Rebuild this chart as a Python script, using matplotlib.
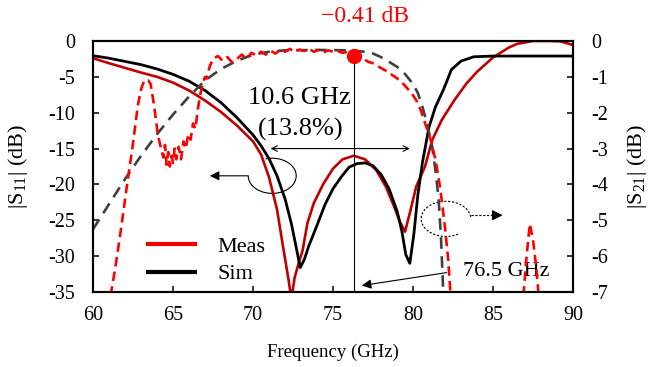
import matplotlib
matplotlib.use('Agg')
import matplotlib.pyplot as plt
from matplotlib.patches import Arc
from matplotlib.lines import Line2D

plt.rcParams['font.family'] = ['Liberation Serif', 'DejaVu Serif']
plt.rcParams['mathtext.fontset'] = 'custom'
plt.rcParams['mathtext.rm'] = 'Liberation Serif'
plt.rcParams['mathtext.it'] = 'Liberation Serif:italic'
plt.rcParams['axes.unicode_minus'] = False

# measured S11 (dB)
meas_s11_f = [60, 61, 62, 63, 64, 65, 66, 67, 68, 69,
              69.5, 70, 70.5, 71, 71.5, 71.9, 72.2, 72.4, 72.6, 72.85,
              73.1, 73.4, 73.8, 74.4, 75, 75.6, 76.3, 77, 77.7, 78.3,
              78.8, 79.2, 79.5, 79.8, 80.2, 80.75, 81.2, 81.8, 82.6, 83.35,
              84, 85, 86, 86.5, 87.5, 88.5, 89.2, 90]
meas_s11 = [-2.4, -3.1, -3.75, -4.4, -5.0, -5.8, -6.9, -8.3, -9.9, -11.8,
            -12.9, -14.0, -15.8, -19.0, -23.5, -29.0, -33.0, -36.0, -33.0, -31.0,
            -29.2, -25.4, -22.6, -19.9, -17.8, -16.5, -16.0, -16.5, -18.0, -20.3,
            -23.0, -25.3, -26.6, -24.0, -20.3, -17.5, -13.8, -11.0, -8.2, -5.9,
            -4.3, -2.3, -0.9, -0.4, 0.0, 0.0, -0.05, -0.55]

# simulated S11 (dB)
sim_s11_f = [60, 61, 62, 63, 64, 65, 66, 67, 68, 69,
             70, 70.5, 71, 71.5, 72, 72.4, 72.7, 72.95, 73.2, 73.5,
             74, 74.5, 75, 75.5, 76, 76.5, 77, 77.5, 78, 78.5,
             79, 79.3, 79.55, 79.8, 80.05, 80.3, 80.6, 81.0, 81.4, 81.9,
             82.4, 83, 83.8, 85, 90]
sim_s11 = [-2.05, -2.4, -2.85, -3.3, -3.9, -4.65, -5.6, -6.9, -8.6, -10.7,
           -13.1, -14.6, -16.4, -18.8, -22.0, -25.5, -28.8, -31.6, -30.5, -28.5,
           -25.7, -22.8, -20.6, -19.0, -17.6, -17.1, -17.0, -17.4, -18.6, -20.6,
           -23.7, -26.5, -29.8, -31.0, -27.0, -21.5, -16.8, -12.0, -9.2, -6.8,
           -4.0, -2.8, -2.2, -2.1, -2.1]

# measured S21 (dB)
meas_s21_f = [61.1, 61.4, 61.7, 62.1, 62.5, 62.8, 63.0, 63.2, 63.45, 63.6,
              63.8, 64.05, 64.25, 64.4, 64.5, 64.6, 64.7, 64.8, 64.9, 65.0,
              65.1, 65.2, 65.35, 65.5, 65.65, 65.8, 65.95, 66.1, 66.25, 66.4,
              66.55, 66.7, 66.85, 67.0, 67.1, 67.3, 67.5, 67.8, 68.1, 68.4,
              68.7, 69.0, 69.3, 69.6, 69.9, 70.2, 70.5, 70.8, 71.1, 71.4,
              71.7, 72.0, 72.3, 72.6, 72.9, 73.2, 73.5, 73.8, 74.1, 74.4,
              74.7, 75.0, 75.3, 75.6, 75.9, 76.3, 76.6, 76.9, 77.2, 77.5,
              77.8, 78.1, 78.4, 78.7, 79.0, 79.3, 79.6, 79.9, 80.2, 80.5,
              80.8, 81.1, 81.4, 81.7, 82.0, 82.2, 82.35]
meas_s21 = [-7.1, -6.3, -5.4, -4.1, -2.85, -1.8, -1.35, -1.1, -1.1, -1.2,
            -1.75, -2.6, -3.0, -3.25, -2.9, -3.45, -3.1, -3.5, -3.2, -3.4,
            -3.0, -3.3, -2.95, -3.3, -2.8, -3.0, -2.6, -2.75, -2.3, -2.45,
            -1.9, -1.5, -1.2, -1.0, -1.05, -0.7, -0.5, -0.42, -0.55, -0.45,
            -0.6, -0.5, -0.38, -0.5, -0.33, -0.4, -0.3, -0.38, -0.27, -0.35,
            -0.25, -0.3, -0.22, -0.3, -0.24, -0.28, -0.22, -0.3, -0.25, -0.32,
            -0.26, -0.3, -0.28, -0.33, -0.3, -0.41, -0.45, -0.5, -0.58, -0.62,
            -0.7, -0.78, -0.85, -0.95, -1.04, -1.15, -1.3, -1.45, -1.65, -1.95,
            -2.35, -2.75, -3.3, -4.1, -5.2, -6.1, -7.1]
spike_f = [86.9, 87.1, 87.3, 87.5, 87.7, 87.85]
spike_s21 = [-7.1, -6.0, -5.1, -5.55, -6.3, -7.1]

# simulated S21 (dB)
sim_s21_f = [60, 61, 62, 63, 64, 65, 66, 67, 68, 69,
             70, 71, 72, 74, 76, 77, 77.5, 78, 78.5, 79,
             79.5, 80, 80.3, 80.6, 80.9, 81.2, 81.4, 81.6, 81.75, 81.9]
sim_s21 = [-5.25, -4.55, -3.85, -3.2, -2.6, -2.05, -1.55, -1.1, -0.78, -0.55,
           -0.38, -0.3, -0.26, -0.25, -0.26, -0.3, -0.35, -0.45, -0.58, -0.72,
           -0.92, -1.2, -1.45, -1.85, -2.35, -2.95, -3.6, -4.4, -5.5, -7.1]

f_center = 76.3
il_center = -0.41


def main():
    fig = plt.figure(figsize=(6.56, 3.67), dpi=100)
    ax = fig.add_axes([0.1418, 0.2044, 0.7317, 0.6839])
    ax2 = ax.twinx()

    ax.plot(meas_s11_f, meas_s11, color='#C00000', lw=1.9, zorder=3)
    ax.plot(sim_s11_f, sim_s11, color='black', lw=2.0, zorder=3)
    ax2.plot(sim_s21_f, sim_s21, color='#404040', lw=1.9, dashes=(4.4, 2.8))
    ax2.plot(meas_s21_f, meas_s21, color='#FF0000', lw=1.9, dashes=(3.6, 2.0))
    ax2.plot(spike_f, spike_s21, color='#FF0000', lw=1.9, dashes=(3.6, 2.0))
    ax2.plot([f_center], [il_center], 'o', color='#FF0000', ms=10, zorder=5)

    ax.set_xlim(60, 90)
    ax.set_ylim(-35, 0)
    ax2.set_ylim(-7, 0)
    ax.set_xticks(range(60, 91, 5))
    ax.set_yticks(range(-35, 1, 5))
    ax2.set_yticks(range(-7, 1, 1))

    for a in (ax, ax2):
        for s in a.spines.values():
            s.set_linewidth(1.5)
        a.tick_params(direction='in', length=4, width=1.1, labelsize=14.5)
    ax.tick_params(axis='y', pad=13)
    ax.tick_params(axis='x', pad=10)
    ax2.tick_params(axis='y', pad=13)

    # axis titles placed in figure pixels
    fig.text(0.5 * (0.1418 + 0.8735), 1 - 352 / 367, 'Frequency (GHz)',
             fontsize=13.5, ha='center', va='center')
    fig.text(18 / 656, 0.5 * (0.2044 + 0.8883), r'|S$_{11}$| (dB)',
             fontsize=16, ha='center', va='center', rotation=90)
    fig.text(637 / 656, 0.5 * (0.2044 + 0.8883), r'|S$_{21}$| (dB)',
             fontsize=16, ha='center', va='center', rotation=90)

    # centre frequency marker line
    ax.plot([f_center, f_center], [-35, il_center * 5], color='black', lw=0.8, zorder=4)
    ax2.text(77.0, 0.67, '\u22120.41 dB', color='#FF0000', fontsize=17,
             ha='center', va='center', clip_on=False)

    # bandwidth arrow
    ax.annotate('', xy=(71.1, -15.0), xytext=(79.8, -15.0),
                arrowprops=dict(arrowstyle='<->', lw=0.8, color='black',
                                shrinkA=0, shrinkB=0, mutation_scale=10))
    ax.text(72.9, -8.0, '10.6 GHz', fontsize=19, ha='center', va='center')
    ax.text(73.0, -12.4, '(13.8%)', fontsize=19, ha='center', va='center')

    # S11 pointer (solid loop, left arrow)
    ax.add_patch(Arc((71.2, -18.8), 3.0, 4.9, theta1=180, theta2=100,
                     color='black', lw=0.8))
    ax.annotate('', xy=(67.3, -18.8), xytext=(69.7, -18.8),
                arrowprops=dict(arrowstyle='-|>', lw=0.8, color='black',
                                shrinkA=0, shrinkB=0, mutation_scale=14))

    # S21 pointer (dashed loop, right arrow)
    ax.add_patch(Arc((82.06, -24.8), 3.1, 4.9, theta1=10, theta2=290,
                     color='black', lw=0.8, ls=(0, (2, 1.5))))
    ax.plot([83.6, 85.0], [-24.3, -24.3], color='black', lw=0.8,
            ls=(0, (2, 1.5)))
    ax.annotate('', xy=(85.6, -24.3), xytext=(84.9, -24.3),
                arrowprops=dict(arrowstyle='-|>', lw=0.8, color='black',
                                shrinkA=0, shrinkB=0, mutation_scale=16))

    # 76.5 GHz pointer
    ax.annotate('', xy=(76.8, -34.1), xytext=(82.1, -32.3),
                arrowprops=dict(arrowstyle='-|>', lw=0.8, color='black',
                                shrinkA=0, shrinkB=0, mutation_scale=14))
    ax.text(85.8, -32.1, '76.5 GHz', fontsize=16, ha='center', va='center')

    handles = [Line2D([], [], color='#EE0000', lw=3.0),
               Line2D([], [], color='black', lw=3.0)]
    ax2.legend(handles, ['Meas', 'Sim'], loc='lower left',
               bbox_to_anchor=(0.115, 0.03), frameon=False, fontsize=16,
               handlelength=2.1, handletextpad=1.0, labelspacing=0.3,
               borderpad=0, borderaxespad=0)

    fig.savefig('out.png', dpi=100)


if __name__ == '__main__':
    main()
